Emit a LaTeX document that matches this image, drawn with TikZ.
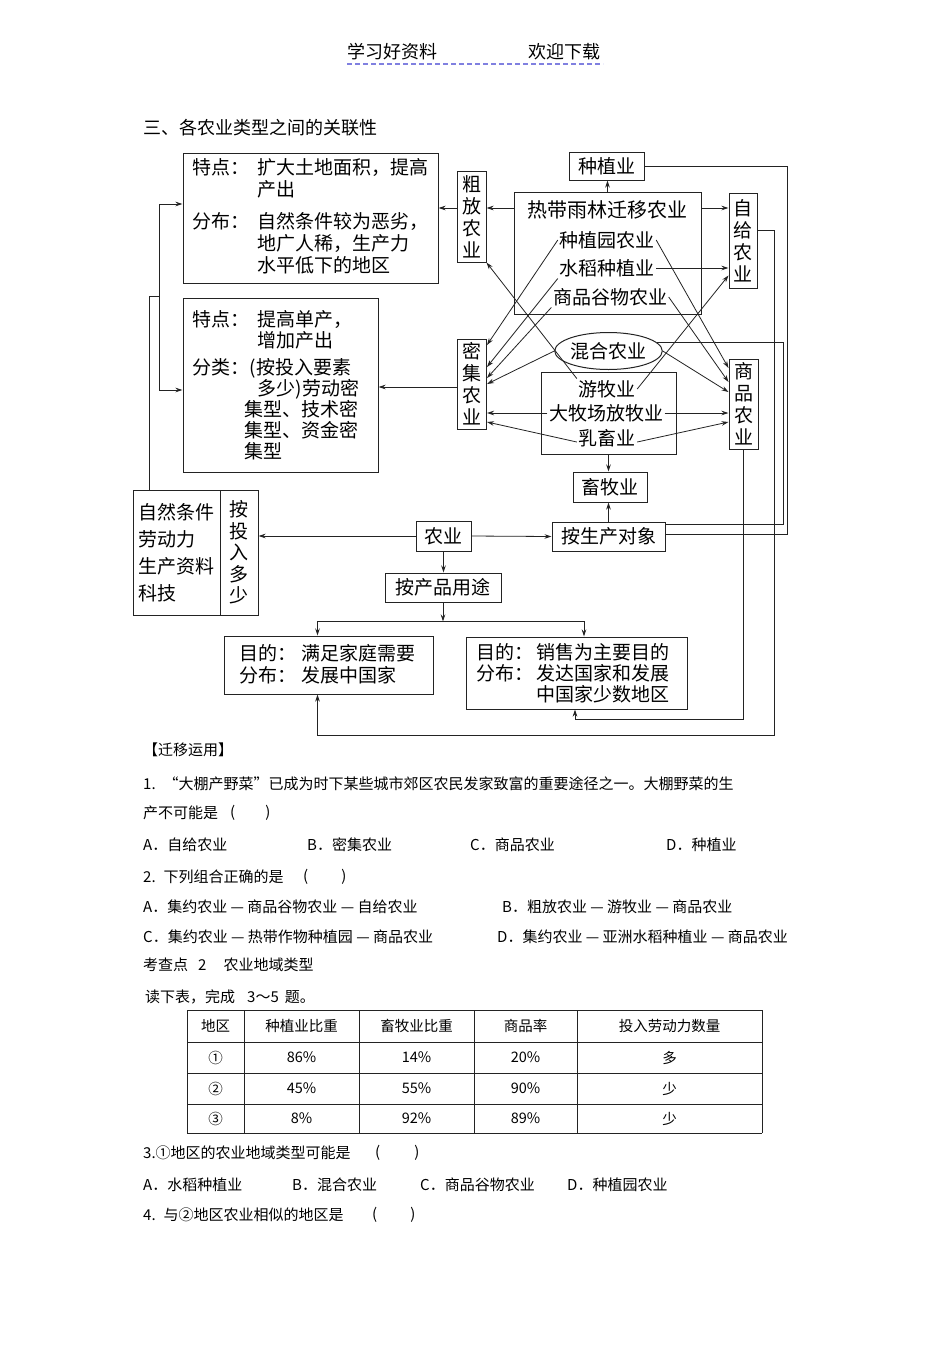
\documentclass[tikz,border=0pt]{standalone}
\usepackage{fontspec}
\setmainfont{Noto Sans CJK SC}
\usepackage{tikz}
\usetikzlibrary{positioning,calc,shapes.geometric,arrows.meta}
\usepackage{xcolor}
\definecolor{linegray}{RGB}{35,35,35}
\definecolor{headblue}{RGB}{128,128,224}
\newcommand{\dgfont}{\fontsize{19pt}{22pt}\selectfont}
\newcommand{\dgtight}{\fontsize{19pt}{21pt}\selectfont}
\newcommand{\qfont}{\fontsize{15pt}{18pt}\selectfont}
\newcommand{\tbfont}{\fontsize{14.5pt}{17pt}\selectfont}
\newcommand{\ttlfont}{\fontsize{18pt}{21pt}\selectfont}
\newcommand{\rowhd}[2][65pt]{\makebox[#1][l]{#2}}

\begin{document}
\begin{tikzpicture}[
    x=1pt, y=-1pt,
    agbox/.style={rectangle, draw=linegray, line width=1pt, inner sep=0pt,
                  font=\dgfont},
    vbox/.style={agbox, minimum width=29pt, align=center},
    dgtext/.style={inner sep=1.5pt, font=\dgfont},
    desc/.style={inner sep=0pt, font=\dgfont, align=left, anchor=north west},
    qtext/.style={inner sep=0pt, font=\qfont, anchor=west},
    tbtext/.style={inner sep=0pt, font=\tbfont},
    arrow/.style={->, >={Stealth[length=7pt,width=4.5pt]}, line width=0.8pt, draw=linegray},
    link/.style={line width=0.8pt, draw=linegray},
    tableline/.style={line width=1pt, draw=linegray}
]
\fill[white] (0,0) rectangle (950,1345);
\useasboundingbox (0,0) rectangle (950,1345);

% header
\node[font=\ttlfont, inner sep=0pt] (hdleft) at (392,52) {学习好资料};
\node[font=\ttlfont, inner sep=0pt] (hdright) at (564,52) {欢迎下载};
\draw[headblue, line width=1.5pt, dash pattern=on 5pt off 3pt] (347,64) -- (603,64);

\node[qtext, font=\ttlfont] (title) at (143,128) {三、各农业类型之间的关联性};

% left description boxes
\node[agbox, minimum width=255pt, minimum height=130pt] (kuodesc) at (310.5,218) {};
\node[desc] at ($(kuodesc.north west)+(10,5.5)$) {
    \rowhd{特点：}扩大土地面积，提高\\
    \rowhd{}产出\\[10pt]
    \rowhd{分布：}自然条件较为恶劣，\\
    \rowhd{}地广人稀，生产力\\
    \rowhd{}水平低下的地区
};
\node[agbox, minimum width=195pt, minimum height=174pt] (jiyuedesc) at (280.5,385) {};
\node[desc, font=\dgtight] at ($(jiyuedesc.north west)+(10,12.5)$) {
    \rowhd{特点：}提高单产，\\
    \rowhd{}增加产出\\[6pt]
    \rowhd[57pt]{分类：}(按投入要素\\
    \rowhd{}多少)劳动密\\
    \rowhd[52pt]{}集型、技术密\\
    \rowhd[52pt]{}集型、资金密\\
    \rowhd[52pt]{}集型
};

% types by input
\node[vbox, minimum height=91pt] (cufang) at (471.5,216.5) {粗\\放\\农\\业};
\node[vbox, minimum height=90pt] (miji) at (472,384) {密\\集\\农\\业};

% crop farming group
\node[agbox, minimum width=75pt, minimum height=28pt] (zhongzhi) at (606.5,166) {种植业};
\node[agbox, minimum width=187pt, minimum height=122pt] (tropbox) at (607.5,253) {};
\node[dgtext, font=\fontsize{20pt}{22pt}\selectfont] (rainforest) at (607,210) {热带雨林迁移农业};
\node[dgtext] (zhiwuyuan) at (607,240) {种植园农业};
\node[dgtext] (shuidao) at (607,268) {水稻种植业};
\node[dgtext] (gucu) at (610,297) {商品谷物农业};

\node[ellipse, draw=linegray, line width=1pt, minimum width=105pt, minimum height=37pt,
      inner sep=0pt, font=\dgfont] (hunhe) at (608.5,351) {混合农业};

% livestock group
\node[agbox, minimum width=135pt, minimum height=82pt] (mubox) at (608.5,413) {};
\node[dgtext] (youmu) at (607,389) {游牧业};
\node[dgtext] (damuchang) at (606,413) {大牧场放牧业};
\node[dgtext] (ruxu) at (607,438) {乳畜业};
\node[agbox, minimum width=74pt, minimum height=30pt] (xumu) at (610,487) {畜牧业};

% types by use
\node[vbox, minimum width=28pt, minimum height=95pt] (zigei) at (743,240.5) {自\\给\\农\\业};
\node[vbox, minimum height=90pt] (shangpin) at (743.5,404) {商\\品\\农\\业};

% classification
\node[agbox, minimum width=113pt, minimum height=29pt] (duixiang) at (608.5,536.5) {按生产对象};
\node[agbox, minimum width=55pt, minimum height=30pt] (nongye) at (443.5,536) {农业};
\node[agbox, minimum width=116pt, minimum height=29pt] (yongtu) at (443,587.5) {按产品用途};
\node[agbox, minimum width=87pt, minimum height=125pt, align=left,
      font=\fontsize{19pt}{27pt}\selectfont] (factors) at (176.5,552.5) {自然条件\\劳动力\\生产资料\\科技};
\node[vbox, minimum width=38pt, minimum height=125pt,
      font=\fontsize{19pt}{21.5pt}\selectfont] (touru) at (239,552.5) {按\\投\\入\\多\\少};

\node[agbox, minimum width=209pt, minimum height=58pt] (zigeidesc) at (328.5,665) {};
\node[desc] at ($(zigeidesc.north west)+(16,8.5)$) {
    \rowhd[62pt]{目的：}满足家庭需要\\
    \rowhd[62pt]{分布：}发展中国家
};
\node[agbox, minimum width=221pt, minimum height=72pt] (shangdesc) at (576.5,673) {};
\node[desc, font=\dgtight] at ($(shangdesc.north west)+(11,6.5)$) {
    \rowhd[60pt]{目的：}销售为主要目的\\
    \rowhd[60pt]{分布：}发达国家和发展\\
    \rowhd[60pt]{}中国家少数地区
};

% rails
\coordinate (zzrail) at (787,0);
\coordinate (hhrail) at (783,0);
\coordinate (zgcorner) at (774,735);
\coordinate (spcorner) at (0,719);
\coordinate (fork) at (159,296);
\coordinate (split) at ($(yongtu.south)+(0,19)$);

% arrows from the crop group
\draw[arrow] ($(tropbox.west)+(0,-45)$) -- ($(cufang.east)+(0,-8.5)$);
\draw[arrow] (tropbox.north) -- (tropbox.north |- zhongzhi.south);
\draw[arrow] ($(tropbox.east)+(0,-45)$) -- ($(zigei.west)+(0,-32.5)$);
\draw[arrow] (shuidao.east) -- (shuidao.east -| zigei.west);
\draw[arrow] (zhiwuyuan.west) -- ($(miji.east)+(0,-39)$);
\draw[arrow] (shuidao.south west) -- ($(miji.east)+(0,-17)$);
\draw[arrow] (gucu.south west) -- ($(miji.east)+(0,-6)$);
\draw[arrow] (hunhe.west) -- (miji.east);
\draw[arrow] (zhiwuyuan.east) -- ($(shangpin.west)+(0,-36)$);
\draw[arrow] (gucu.east) -- ($(shangpin.west)+(0,-22)$);
\draw[arrow] (hunhe.east) -- ($(shangpin.west)+(0,-12)$);

% arrows from the livestock group
\draw[arrow] (youmu.north west) -- (cufang.south east);
\draw[arrow] (youmu.east) -- ($(zigei.west)+(0,35)$);
\draw[arrow] (damuchang.west) -- (damuchang.west -| miji.east);
\draw[arrow] (damuchang.east) -- (damuchang.east -| shangpin.west);
\draw[arrow] ($(ruxu.west)+(0,4)$) -- ($(miji.east)+(0,38)$);
\draw[arrow] ($(ruxu.east)+(0,4)$) -- ($(shangpin.west)+(0,18)$);
\draw[arrow] (mubox.south) -- (mubox.south |- xumu.north);
\draw[arrow] (duixiang.north) -- (duixiang.north |- xumu.south);

% right rails
\draw[link] (zhongzhi.east) -- (zhongzhi.east -| zzrail) |- ($(duixiang.east)+(0,-2.5)$);
\draw[link] (hunhe.10) -- (hunhe.10 -| hhrail) |- ($(duixiang.east)+(0,-12.5)$);
\draw[arrow] (zigei.35) -| (zgcorner) -| ($(zigeidesc.south)+(-11,0)$);
\draw[arrow] (shangpin.south) -- (shangpin.south |- spcorner) -| ($(shangdesc.south)+(-1.5,0)$);

% left side
\draw[arrow] ($(cufang.west)+(0,-8.5)$) -- ($(kuodesc.east)+(0,-10)$);
\draw[arrow] ($(miji.west)+(0,3)$) -- ($(jiyuedesc.east)+(0,2)$);
\draw[link] ($(factors.north west)+(17,0)$) |- (fork);
\draw[arrow] (fork) |- ($(kuodesc.west)+(0,-14)$);
\draw[arrow] (fork) |- ($(jiyuedesc.west)+(0,5)$);

% agriculture
\draw[arrow] (nongye.east) -- (duixiang.west);
\draw[arrow] (nongye.west) -- (nongye.west -| touru.east);
\draw[arrow] (nongye.south) -- (nongye.south |- yongtu.north);
\draw[arrow] (yongtu.south) -- (split);
\draw[arrow] (split) -| ($(zigeidesc.north)+(-11,0)$);
\draw[arrow] (split) -| ($(shangdesc.north)+(7.5,0)$);

% questions
\node[qtext] (qhead) at (143,750) {【迁移运用】};
\node[qtext] (q1a) at (143,784) {1.\hspace{8pt}“大棚产野菜”已成为时下某些城市郊区农民发家致富的重要途径之一。大棚野菜的生};
\node[qtext] (q1b) at (143,813) {产不可能是};
\node[qtext] (q1p) at (230,813) {(\hspace{30pt})};
\node[qtext] (q1A) at (143,845) {A．自给农业};
\node[qtext] (q1B) at (307,845) {B．密集农业};
\node[qtext] (q1C) at (470,845) {C．商品农业};
\node[qtext] (q1D) at (666,845) {D．种植业};
\node[qtext] (q2) at (143,877) {2.\hspace{8pt}下列组合正确的是};
\node[qtext] (q2p) at (303,877) {(\hspace{33pt})};
\node[qtext] (q2A) at (143,907) {A．集约农业\ —\ 商品谷物农业\ —\ 自给农业};
\node[qtext] (q2B) at (502,907) {B．粗放农业\ —\ 游牧业\ —\ 商品农业};
\node[qtext] (q2C) at (143,937) {C．集约农业\ —\ 热带作物种植园\ —\ 商品农业};
\node[qtext] (q2D) at (497,937) {D．集约农业\ —\ 亚洲水稻种植业\ —\ 商品农业};
\node[qtext] (kcd) at (143,965) {考查点\hspace{10pt}2\hspace{17pt}农业地域类型};
\node[qtext] (dxb) at (145,997) {读下表，完成\hspace{12pt}3～5\hspace{6pt}题。};

% table
\foreach \y in {1010,1042,1073,1104,1133}
    \draw[tableline] (187,\y) -- (762,\y);
\foreach \x in {187,244,359,474,577,762}
    \draw[tableline] (\x,1010) -- (\x,1133);
\foreach \cx/\txt [count=\i] in {215.5/地区, 301.5/种植业比重, 416.5/畜牧业比重, 525.5/商品率, 669.5/投入劳动力数量}
    \node[tbtext] (head\i) at (\cx,1026) {\txt};
\foreach \cx/\txt [count=\i] in {215.5/①, 301.5/86\%, 416.5/14\%, 525.5/20\%, 669.5/多}
    \node[tbtext] (rowa\i) at (\cx,1057.5) {\txt};
\foreach \cx/\txt [count=\i] in {215.5/②, 301.5/45\%, 416.5/55\%, 525.5/90\%, 669.5/少}
    \node[tbtext] (rowb\i) at (\cx,1088.5) {\txt};
\foreach \cx/\txt [count=\i] in {215.5/③, 301.5/8\%, 416.5/92\%, 525.5/89\%, 669.5/少}
    \node[tbtext] (rowc\i) at (\cx,1118.5) {\txt};

\node[qtext] (q3) at (143,1153) {3.①地区的农业地域类型可能是};
\node[qtext] (q3p) at (375,1153) {(\hspace{34pt})};
\node[qtext] (q3A) at (143,1185) {A．水稻种植业};
\node[qtext] (q3B) at (292,1185) {B．混合农业};
\node[qtext] (q3C) at (420,1185) {C．商品谷物农业};
\node[qtext] (q3D) at (567,1185) {D．种植园农业};
\node[qtext] (q4) at (143,1215) {4.\hspace{8pt}与②地区农业相似的地区是};
\node[qtext] (q4p) at (372,1215) {(\hspace{33pt})};

\end{tikzpicture}
\end{document}
